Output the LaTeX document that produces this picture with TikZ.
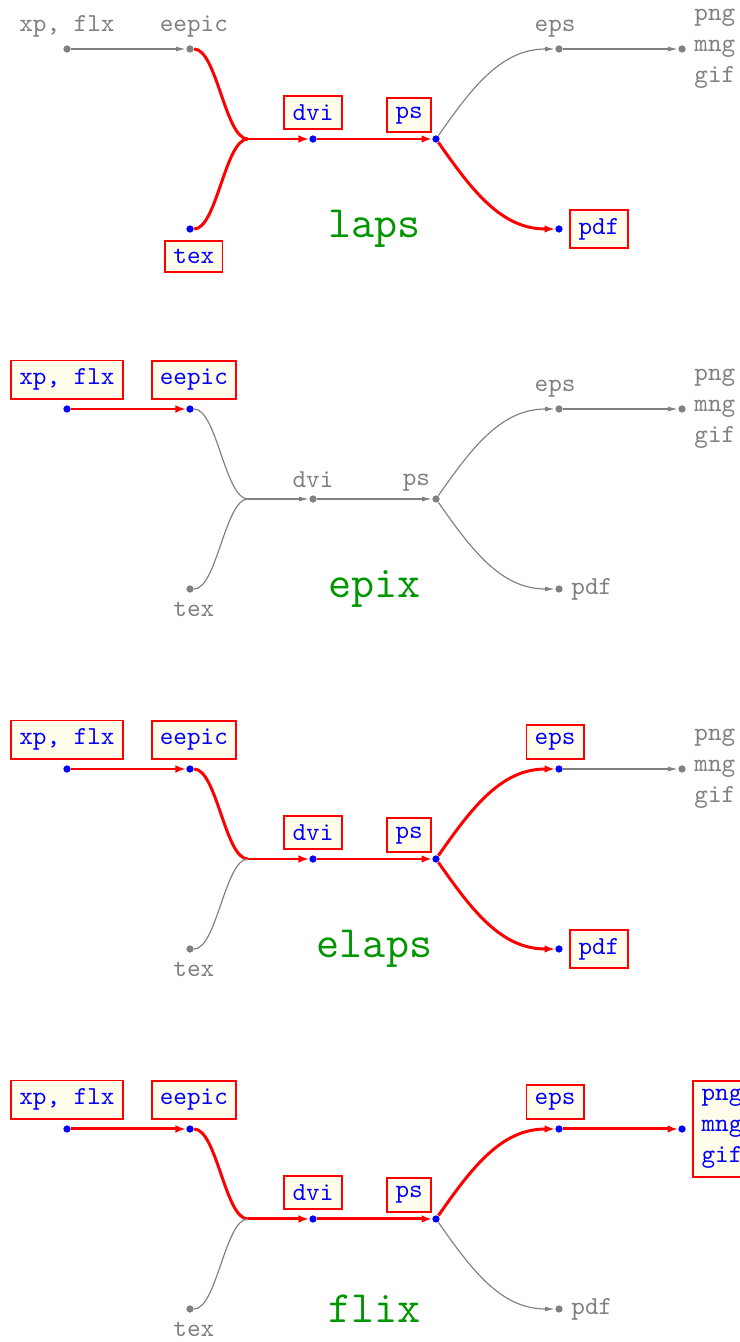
\documentclass[tikz,border=0pt]{standalone}
\usepackage{tikz}
\usetikzlibrary{arrows.meta, positioning}
\definecolor{boxfill}{RGB}{255,252,235}
\definecolor{titlegreen}{RGB}{0,150,0}

\tikzset{
  fmtdot/.style={circle, fill=gray, inner sep=0pt, minimum size=2.8pt},
  livedot/.style={fill=blue},
  fmttag/.style={font=\ttfamily, text=gray, inner sep=0.6pt},
  livetag/.style={text=blue, draw=red, fill=boxfill, line width=0.7pt, inner sep=3.2pt},
  pipe/.style={draw=gray, line width=0.45pt, >={Latex[length=3.8pt, width=1.9pt]}},
  livepipe/.style={draw=red, line width=1.15pt, >={Latex[length=4pt, width=3pt]}},
  dim/.style={dot #1/.style={}, tag #1/.style={}},
  lit/.style={dot #1/.style={livedot}, tag #1/.style={livetag}},
  cold/.style={wire #1/.style={}},
  hot/.style={wire #1/.style={livepipe}},
  appname/.style={font=\LARGE\ttfamily, text=titlegreen},
}

\newcommand\convchain[1]{%
  \node[fmtdot, dot xp] (xp) at (0,0) {};
  \node[fmtdot, dot eepic] (eepic) at (1,0) {};
  \node[fmtdot, dot tex] (tex) at (1,-2) {};
  \coordinate (jn) at (1.47,-1);
  \node[fmtdot, dot dvi] (dvi) at (2,-1) {};
  \node[fmtdot, dot ps] (ps) at (3,-1) {};
  \node[fmtdot, dot eps] (eps) at (4,0) {};
  \node[fmtdot, dot pdf] (pdf) at (4,-2) {};
  \node[fmtdot, dot png] (png) at (5,0) {};
  % format names
  \node[fmttag, tag xp, above=2pt of xp] (xp-t) {xp, flx};
  \node[fmttag, tag eepic, above=2pt of eepic, xshift=1.5pt] (eepic-t) {eepic};
  \node[fmttag, tag tex, below=2.6pt of tex, xshift=1.5pt] (tex-t) {tex};
  \node[fmttag, tag dvi, above=2pt of dvi] (dvi-t) {dvi};
  \node[fmttag, tag ps, above left=1.2pt and 0.4pt of ps] (ps-t) {ps};
  \node[fmttag, tag eps, above=2pt of eps, xshift=-1.5pt] (eps-t) {eps};
  \node[fmttag, tag pdf, right=2.4pt of pdf] (pdf-t) {pdf};
  \node[fmttag, tag png, right=2.4pt of png, align=left] (png-t) {png\\mng\\gif};
  % conversions
  \draw[pipe, wire xp-eepic, ->] (xp) -- (eepic);
  \draw[pipe, wire eepic-jn] (eepic) to[out=0, in=180, looseness=0.55] (jn);
  \draw[pipe, wire tex-jn] (tex) to[out=0, in=180, looseness=0.55] (jn);
  \draw[pipe, wire jn-dvi, ->] (jn) -- (dvi);
  \draw[pipe, wire dvi-ps, ->] (dvi) -- (ps);
  \draw[pipe, wire ps-eps, ->] (ps) to[out=55, in=180] (eps);
  \draw[pipe, wire ps-pdf, ->] (ps) to[out=-55, in=180] (pdf);
  \draw[pipe, wire eps-png, ->] (eps) -- (png);
  \node[appname] (name) at (2.5,-2) {#1};
}

\begin{document}
\begin{tikzpicture}[x=47.48pt, y=34.74pt,
  dim/.list={xp,eepic,tex,dvi,ps,eps,pdf,png},
  cold/.list={xp-eepic,eepic-jn,tex-jn,jn-dvi,dvi-ps,ps-eps,ps-pdf,eps-png}]
  \useasboundingbox (-0.5447,0.5444) rectangle (5.4715,-14.367);

  \begin{scope}[name prefix=laps-, lit/.list={tex,dvi,ps,pdf},
      hot/.list={eepic-jn,tex-jn,jn-dvi,dvi-ps,ps-pdf}]
    \convchain{laps}
  \end{scope}

  \begin{scope}[shift={(0,-4)}, name prefix=epix-, lit/.list={xp,eepic},
      hot/.list={xp-eepic}]
    \convchain{epix}
  \end{scope}

  \begin{scope}[shift={(0,-8)}, name prefix=elaps-, lit/.list={xp,eepic,dvi,ps,eps,pdf},
      hot/.list={xp-eepic,eepic-jn,jn-dvi,dvi-ps,ps-eps,ps-pdf}]
    \convchain{elaps}
  \end{scope}

  \begin{scope}[shift={(0,-12)}, name prefix=flix-, lit/.list={xp,eepic,dvi,ps,eps,png},
      hot/.list={xp-eepic,eepic-jn,jn-dvi,dvi-ps,ps-eps,eps-png}]
    \convchain{flix}
  \end{scope}
\end{tikzpicture}
\end{document}
